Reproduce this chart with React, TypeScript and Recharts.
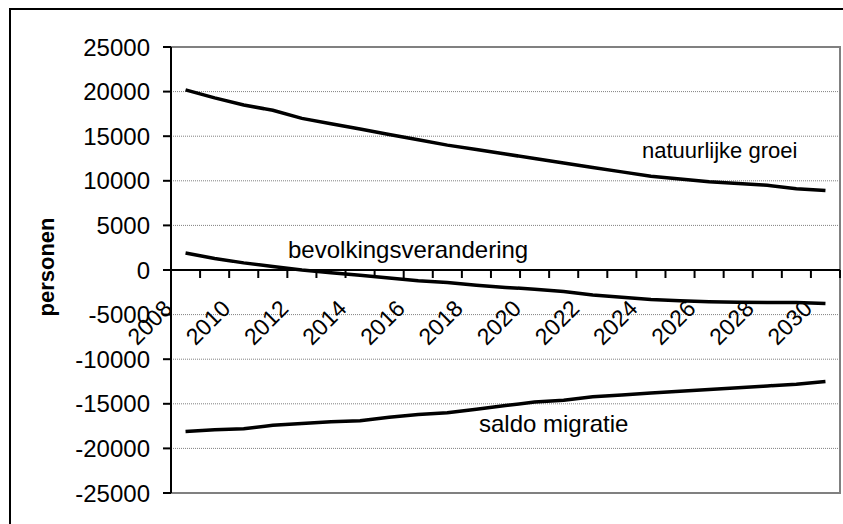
import { LineChart, Line, XAxis, YAxis, CartesianGrid, ReferenceLine } from 'recharts';

const years = [
  '2008', '2009', '2010', '2011', '2012', '2013', '2014', '2015', '2016', '2017', '2018', '2019',
  '2020', '2021', '2022', '2023', '2024', '2025', '2026', '2027', '2028', '2029', '2030',
];
const natuurlijkeGroei = [
  20200, 19300, 18500, 17900, 17000, 16400, 15800, 15200, 14600, 14000, 13500, 13000,
  12500, 12000, 11500, 11000, 10500, 10200, 9900, 9700, 9500, 9100, 8900,
];
const saldoMigratie = [
  -18100, -17900, -17800, -17400, -17200, -17000, -16900, -16500, -16200, -16000, -15600, -15200,
  -14800, -14600, -14200, -14000, -13800, -13600, -13400, -13200, -13000, -12800, -12500,
];
const bevolkingsverandering = [
  1900, 1300, 800, 400, 0, -300, -600, -900, -1200, -1400, -1700, -1950,
  -2150, -2400, -2800, -3050, -3300, -3450, -3550, -3620, -3650, -3650, -3750,
];
const yTicks = [-25000, -20000, -15000, -10000, -5000, 0, 5000, 10000, 15000, 20000, 25000];

const data = years.map((year, i) => ({
  year,
  natuurlijke: natuurlijkeGroei[i],
  saldo: saldoMigratie[i],
  bevolking: bevolkingsverandering[i],
}));

const FONT = '"Liberation Sans", Arial, sans-serif';
const W = 832;
const H = 514;
const M_TOP = 37;
const PLOT_W = 669;
const PLOT_H = 446;
const Y_AXIS_W = 160;
const X_AXIS_H = 30;
const BW = PLOT_W / years.length;
const ZERO_Y = M_TOP + PLOT_H / 2;

function YearTick(props: any) {
  const { x, payload } = props;
  const year = String(payload.value);
  const left = x - BW / 2;
  const isLast = year === years[years.length - 1];
  const lx = x - 12;
  const ly = ZERO_Y + 40;
  return (
    <g>
      <line x1={left} x2={left} y1={ZERO_Y} y2={ZERO_Y + 8} stroke="#000" strokeWidth={2} />
      {isLast && <line x1={x + BW / 2} x2={x + BW / 2} y1={ZERO_Y} y2={ZERO_Y + 8} stroke="#000" strokeWidth={2} />}
      {Number(year) % 2 === 0 && (
        <text
          x={lx}
          y={ly}
          transform={`rotate(-45 ${lx} ${ly})`}
          textAnchor="end"
          fontSize={23}
          fontFamily={FONT}
          fill="#000"
        >
          {year}
        </text>
      )}
    </g>
  );
}

export default function App() {
  return (
    <div
      style={{
        position: 'fixed',
        left: 9,
        top: 8,
        width: 834,
        height: 516,
        overflow: 'hidden',
        borderTop: '2px solid #000',
        borderLeft: '2px solid #000',
        background: '#fff',
      }}
    >
      <LineChart
        width={W}
        height={H}
        data={data}
        margin={{ top: M_TOP, right: W - Y_AXIS_W - PLOT_W, left: 0, bottom: H - M_TOP - PLOT_H - X_AXIS_H }}
        style={{ fontFamily: FONT }}
      >
        <CartesianGrid vertical={false} stroke="#808080" strokeDasharray="1 1" />
        {/* plot area frame */}
        <rect x={Y_AXIS_W} y={M_TOP} width={PLOT_W} height={PLOT_H} fill="none" stroke="#808080" strokeWidth={2} />
        <XAxis
          dataKey="year"
          interval={0}
          height={X_AXIS_H}
          axisLine={false}
          tickLine={false}
          padding={{ left: BW / 2, right: BW / 2 }}
          tick={(p: any) => <YearTick {...p} />}
        />
        <YAxis
          width={Y_AXIS_W}
          domain={[-25000, 25000]}
          ticks={yTicks}
          interval={0}
          allowDataOverflow
          tickSize={8}
          tickMargin={13}
          axisLine={{ stroke: '#000', strokeWidth: 2 }}
          tickLine={{ stroke: '#000', strokeWidth: 2 }}
          tick={{ fill: '#000', fontSize: 24, fontFamily: FONT }}
          label={() => (
            <text
              x={43}
              y={257}
              transform="rotate(-90 43 257)"
              textAnchor="middle"
              fontSize={22}
              fontWeight="bold"
              fontFamily={FONT}
              fill="#000"
            >
              personen
            </text>
          )}
        />
        <ReferenceLine y={0} stroke="#000" strokeWidth={2} />
        <Line type="linear" dataKey="natuurlijke" stroke="#000" strokeWidth={3.5} dot={false} isAnimationActive={false} />
        <Line type="linear" dataKey="bevolking" stroke="#000" strokeWidth={3.5} dot={false} isAnimationActive={false} />
        <Line type="linear" dataKey="saldo" stroke="#000" strokeWidth={3.5} dot={false} isAnimationActive={false} />
        <text x={631} y={148} fontSize={22} fontFamily={FONT} fill="#000">natuurlijke groei</text>
        <text x={277} y={248} fontSize={24} fontFamily={FONT} fill="#000">bevolkingsverandering</text>
        <text x={468} y={422} fontSize={24} fontFamily={FONT} fill="#000">saldo migratie</text>
      </LineChart>
    </div>
  );
}
